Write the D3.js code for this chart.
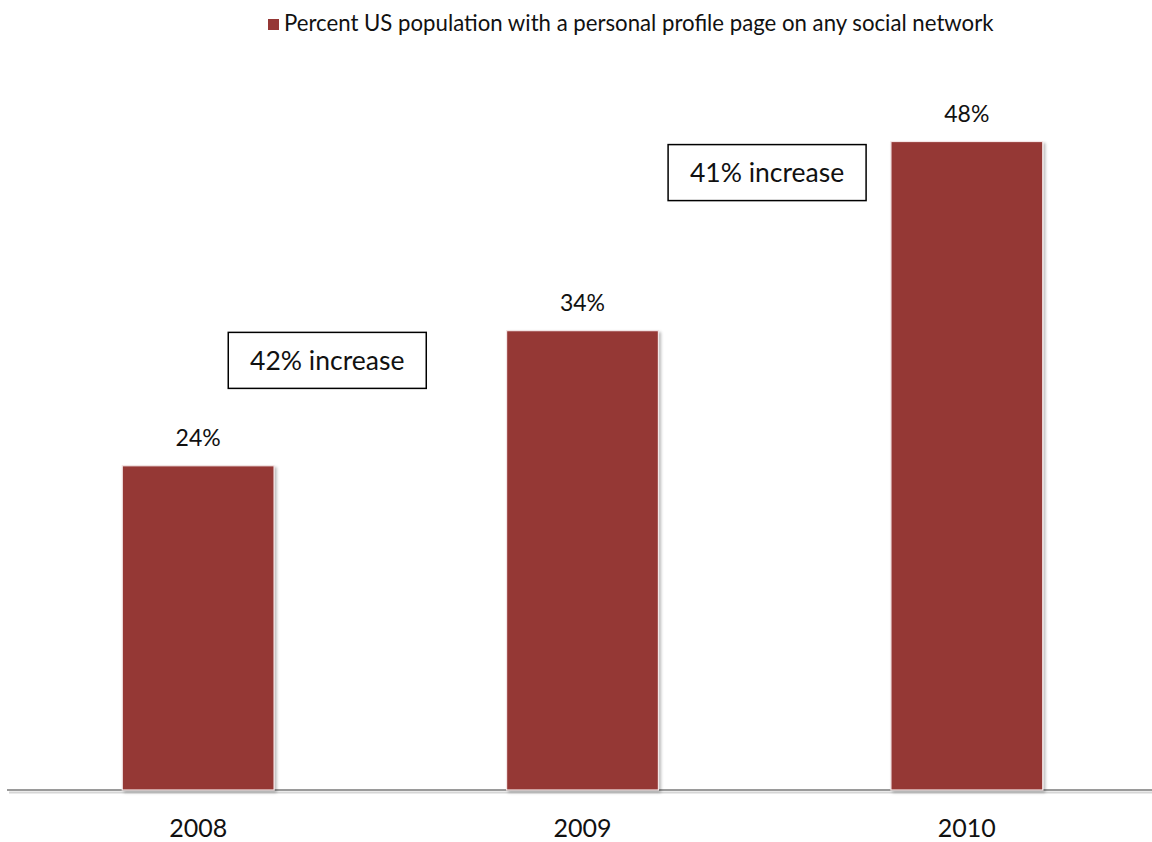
<!DOCTYPE html>
<html>
<head>
<meta charset="utf-8">
<script src="https://cdn.jsdelivr.net/npm/d3@7/dist/d3.min.js"></script>
<style>
  html, body { margin: 0; padding: 0; background: #fff; }
  svg { display: block; font-family: Lato, "Open Sans", sans-serif; }
</style>
</head>
<body>
<div id="chart"></div>
<script>
// Survey years and share of the US population with a social-network profile
const years = ["2008", "2009", "2010"];
const values = [24, 34, 48];
const seriesName = "Percent US population with a personal profile page on any social network";

// Year-over-year growth callouts (placed between the bars they compare)
const callouts = ["42% increase", "41% increase"];
const calloutLevels = [31.8, 45.7];

const W = 1152, H = 842;
const barColor = "#953735";

const svg = d3.select("#chart").append("svg")
  .attr("width", W).attr("height", H);

const defs = svg.append("defs");
const shadow = defs.append("filter").attr("id", "barShadow")
  .attr("x", "-10%").attr("y", "-10%").attr("width", "130%").attr("height", "130%");
shadow.append("feDropShadow")
  .attr("dx", 2).attr("dy", 2).attr("stdDeviation", 1.8)
  .attr("flood-color", "#000").attr("flood-opacity", 0.28);

const x = d3.scaleBand()
  .domain(years)
  .range([6, 1159])
  .paddingInner(0.605)
  .paddingOuter(0.3025);

const y = d3.scaleLinear()
  .domain([0, 50])
  .range([790, 114.5]);

// Category axis baseline (with a soft shadow beneath it)
const base = svg.append("g").attr("transform", `translate(0,${y(0)})`);
base.append("line")
  .attr("x1", 9).attr("x2", W)
  .attr("y1", 2.5).attr("y2", 2.5)
  .attr("stroke", "#d6d6d6").attr("stroke-width", 2);
base.append("line")
  .attr("x1", 7).attr("x2", W)
  .attr("y1", 0).attr("y2", 0)
  .attr("stroke", "#9a9a9a").attr("stroke-width", 2);

// Bars
svg.append("g").selectAll("rect")
  .data(years.map((yr, i) => ({ yr, v: values[i] })))
  .join("rect")
  .attr("x", d => x(d.yr))
  .attr("y", d => y(d.v))
  .attr("width", x.bandwidth())
  .attr("height", d => y(0) - y(d.v))
  .attr("fill", barColor)
  .attr("stroke", "#f4e6e6")
  .attr("stroke-width", 1.2)
  .attr("filter", "url(#barShadow)");

// Value labels
svg.append("g").selectAll("text")
  .data(years.map((yr, i) => ({ yr, v: values[i] })))
  .join("text")
  .attr("x", d => x(d.yr) + x.bandwidth() / 2)
  .attr("y", d => y(d.v) - 20)
  .attr("text-anchor", "middle")
  .attr("font-size", 23)
  .attr("fill", "#111")
  .text(d => d.v + "%");

// Year labels below the baseline
base.selectAll("text")
  .data(years)
  .join("text")
  .attr("x", d => x(d) + x.bandwidth() / 2)
  .attr("y", 47)
  .attr("text-anchor", "middle")
  .attr("font-size", 25)
  .attr("fill", "#111")
  .text(d => d);

// Growth callout boxes
const boxW = 198, boxH = 56;
const calloutX = [x(years[0]) + 106, x(years[1]) + 161.5];
const cg = svg.append("g").selectAll("g")
  .data(callouts.map((t, i) => ({ t, cx: calloutX[i], cy: y(calloutLevels[i]) })))
  .join("g")
  .attr("transform", d => `translate(${d.cx},${d.cy - boxH / 2})`);
cg.append("rect")
  .attr("x", 0).attr("y", 0)
  .attr("width", boxW).attr("height", boxH)
  .attr("fill", "#fff")
  .attr("stroke", "#000").attr("stroke-width", 1.5);
cg.append("text")
  .attr("x", boxW / 2).attr("y", boxH / 2 + 9.5)
  .attr("text-anchor", "middle")
  .attr("font-size", 26.5)
  .attr("fill", "#111")
  .text(d => d.t);

// Legend
const legend = svg.append("g").attr("transform", "translate(268,19)");
legend.append("rect")
  .attr("width", 11).attr("height", 11)
  .attr("fill", barColor);
legend.append("text")
  .attr("x", 16).attr("y", 11.5)
  .attr("font-size", 22.2)
  .attr("fill", "#111")
  .text(seriesName);
</script>
</body>
</html>
